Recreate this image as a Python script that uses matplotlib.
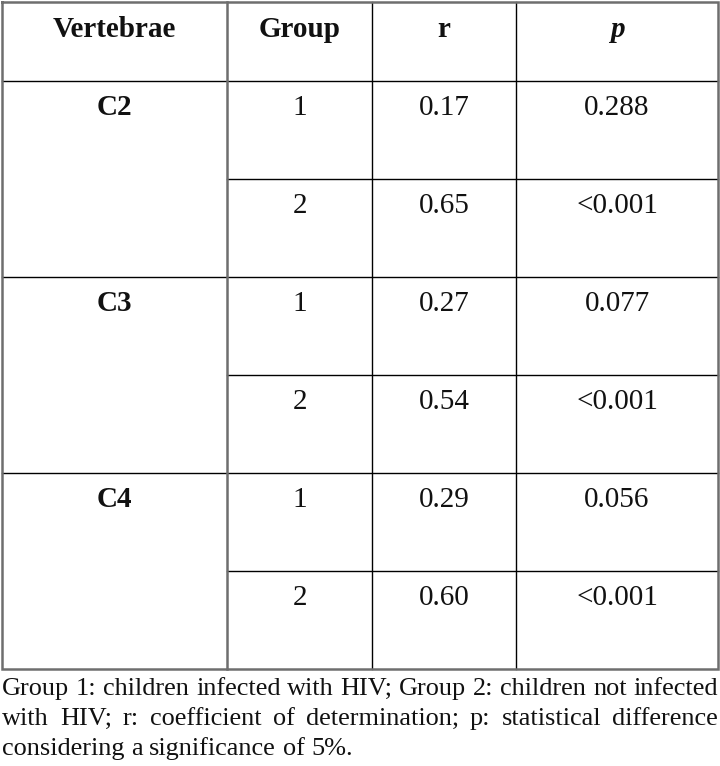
import matplotlib
matplotlib.use("Agg")
import matplotlib.pyplot as plt

# ---- data ----
headers = ["Vertebrae", "Group", "r", "p"]
vertebrae = ["C2", "C3", "C4"]
groups = ["1", "2", "1", "2", "1", "2"]
r_values = ["0.17", "0.65", "0.27", "0.54", "0.29", "0.60"]
p_values = ["0.288", "<0.001", "0.077", "<0.001", "0.056", "<0.001"]
footnote_lines = [
    "Group 1: children infected with HIV; Group 2: children not infected",
    "with HIV; r: coefficient of determination; p: statistical difference",
    "considering a significance of 5%.",
]

W, H = 720, 766
fig = plt.figure(figsize=(W / 100, H / 100), dpi=100)
ax = fig.add_axes([0, 0, 1, 1])
ax.set_xlim(0, W)
ax.set_ylim(H, 0)
ax.axis("off")

FONT = "Liberation Serif"
col_x = [2, 227, 372, 516, 718]
row_y = [2, 81, 179, 277, 375, 473, 571, 669]
gray = "#6e6e6e"
thin = 1.0
thick = 1.8

# inner lines
for x in (col_x[2], col_x[3]):
    ax.plot([x, x], [row_y[0], row_y[-1]], color="black", lw=thin)
ax.plot([col_x[0], col_x[-1]], [row_y[1], row_y[1]], color="black", lw=thin)
for k in range(3):
    ymid = row_y[2 + 2 * k]
    ax.plot([col_x[1], col_x[-1]], [ymid, ymid], color="black", lw=thin)
    if k < 2:
        yb = row_y[3 + 2 * k]
        ax.plot([col_x[0], col_x[-1]], [yb, yb], color="black", lw=thin)
# gray border and first column divider
ax.plot([col_x[1], col_x[1]], [row_y[0], row_y[-1]], color=gray, lw=thick)
ax.plot([col_x[0], col_x[-1], col_x[-1], col_x[0], col_x[0]],
        [row_y[0], row_y[0], row_y[-1], row_y[-1], row_y[0]],
        color=gray, lw=thick, solid_joinstyle="miter")

hfs = 21
fs = 21
base_off = 34
centers = [(col_x[i] + col_x[i + 1]) / 2 for i in range(4)]
for i, h in enumerate(headers):
    ax.text(centers[i], row_y[0] + 35, h, family=FONT, fontsize=hfs,
            weight="bold", style="italic" if h == "p" else "normal",
            ha="center", va="baseline", color="#111111")
for k, v in enumerate(vertebrae):
    ax.text(centers[0], row_y[1 + 2 * k] + base_off, v, family=FONT, fontsize=hfs,
            weight="bold", ha="center", va="baseline", color="#111111")
for j in range(6):
    y = row_y[1 + j] + base_off
    for ci, val in ((1, groups[j]), (2, r_values[j]), (3, p_values[j])):
        ax.text(centers[ci], y, val, family=FONT, fontsize=fs,
                ha="center", va="baseline", color="#111111")

# footnote, justified; font size chosen so that line 1 fits the table width
fig.canvas.draw()
renderer = fig.canvas.get_renderer()
x0, x1 = 2, 718
probe = ax.text(0, 0, footnote_lines[0], family=FONT, fontsize=10)
w10 = probe.get_window_extent(renderer).width
probe.remove()
fn_fs = 10 * (x1 - x0) / w10
line_y = [695, 725, 755]
sp = ax.text(0, 0, "a a", family=FONT, fontsize=fn_fs)
sp2 = ax.text(0, 0, "aa", family=FONT, fontsize=fn_fs)
space_w = sp.get_window_extent(renderer).width - sp2.get_window_extent(renderer).width
sp.remove(); sp2.remove()
for li, line in enumerate(footnote_lines):
    words = line.split(" ")
    texts = [ax.text(0, line_y[li], w, family=FONT, fontsize=fn_fs,
                     ha="left", va="baseline", color="#111111") for w in words]
    widths = [t.get_window_extent(renderer).width for t in texts]
    if li < len(footnote_lines) - 1:
        gap = (x1 - x0 - sum(widths)) / (len(words) - 1)
    else:
        gap = space_w
    x = x0
    for t, w in zip(texts, widths):
        t.set_x(x)
        x += w + gap

fig.savefig("out.png", dpi=100)
